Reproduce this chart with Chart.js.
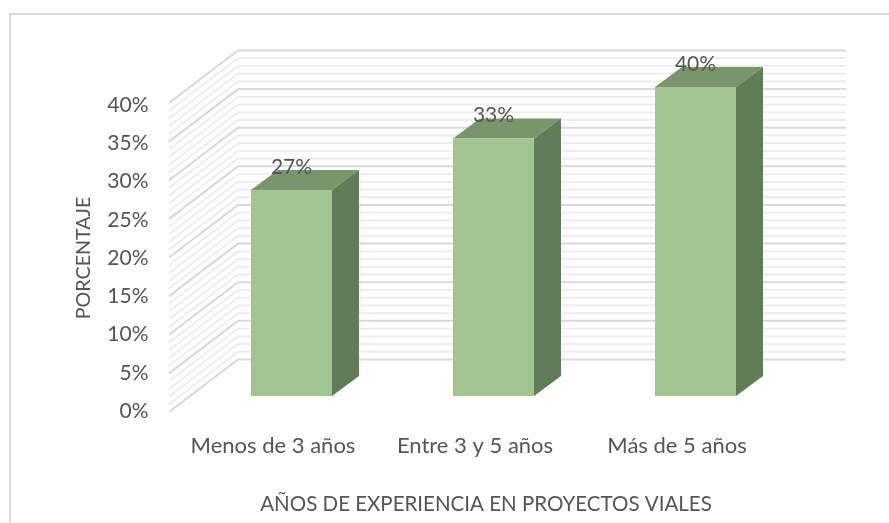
<!DOCTYPE html>
<html><head><meta charset="utf-8">
<style>html,body{margin:0;padding:0;background:#fff}canvas{display:block;filter:blur(0.6px)}</style>
<script src="https://cdn.jsdelivr.net/npm/chart.js@4"></script>
</head><body><canvas id="c" width="889" height="523"></canvas>
<script>
const categories = ["Menos de 3 años", "Entre 3 y 5 años", "Más de 5 años"];
const porcentaje = [26.67, 33.33, 40];
const tickValues = [0, 5, 10, 15, 20, 25, 30, 35, 40];
const xTitle = "AÑOS DE EXPERIENCIA EN PROYECTOS VIALES";
const yTitle = "PORCENTAJE";
const FONT = 'Lato';
const TEXT = "#555555";
const wall = {dx: 69, dy: 52.5, leftOfArea: 21.5, rightOfArea: 49.5};
const depth = {dx: 27, dy: 20};

const scene = {
  id: "scene",
  beforeDraw(chart) {
    const {ctx} = chart;
    ctx.save();
    ctx.strokeStyle = "#d9d9d9"; ctx.lineWidth = 2;
    ctx.beginPath(); ctx.moveTo(10, 523); ctx.lineTo(10, 14); ctx.lineTo(889, 14); ctx.stroke();
    ctx.restore();
  },
  beforeDatasetsDraw(chart) {
    const {ctx, chartArea: a, scales} = chart;
    const g = scales.yGrid;
    ctx.save();
    const x0 = a.left - wall.leftOfArea, x1 = x0 + wall.dx, x2 = a.right + wall.rightOfArea;
    for (let v = 0; v <= 40; v++) {
      const major = v % 5 === 0;
      const y = g.getPixelForValue(v);
      ctx.strokeStyle = major ? "#d9d9d9" : "#ececec";
      ctx.lineWidth = major ? 2 : 1.8;
      ctx.beginPath(); ctx.moveTo(x0, y); ctx.lineTo(x1, y - wall.dy); ctx.lineTo(x2, y - wall.dy); ctx.stroke();
    }
    chart.getDatasetMeta(0).data.forEach(b => {
      const l = b.x - b.width / 2, r = b.x + b.width / 2, t = b.y, bt = b.base;
      ctx.fillStyle = "#78956c";
      ctx.beginPath(); ctx.moveTo(l, t); ctx.lineTo(l + depth.dx, t - depth.dy); ctx.lineTo(r + depth.dx, t - depth.dy); ctx.lineTo(r, t); ctx.closePath(); ctx.fill();
      ctx.fillStyle = "#627b59";
      ctx.beginPath(); ctx.moveTo(r, t); ctx.lineTo(r + depth.dx, t - depth.dy); ctx.lineTo(r + depth.dx, bt - depth.dy); ctx.lineTo(r, bt); ctx.closePath(); ctx.fill();
    });
    ctx.restore();
  },
  afterDatasetsDraw(chart) {
    const {ctx} = chart;
    ctx.save();
    ctx.fillStyle = TEXT; ctx.textAlign = "center"; ctx.textBaseline = "middle";
    ctx.font = "21px " + FONT;
    chart.getDatasetMeta(0).data.forEach((b, i) => ctx.fillText(Math.round(porcentaje[i]) + "%", b.x, b.y - 23));
    ctx.font = "20.5px " + FONT;
    ctx.fillText(xTitle, 486, 504);
    ctx.font = "19.7px " + FONT;
    ctx.translate(84, 258); ctx.rotate(-Math.PI / 2);
    ctx.fillText(yTitle, 0, 0);
    ctx.restore();
  }
};
const noPad = s => { s.paddingTop = s.paddingBottom = s.paddingLeft = s.paddingRight = 0; };

new Chart(document.getElementById("c"), {
  type: "bar",
  data: {labels: categories, datasets: [{
    data: porcentaje, yAxisID: "y", backgroundColor: "#a1c490", borderWidth: 0,
    barPercentage: 0.401, categoryPercentage: 1
  }]},
  plugins: [scene],
  options: {
    responsive: false, animation: false, events: [],
    layout: {padding: {top: 50, right: 92.5, left: 0, bottom: 0}},
    plugins: {legend: {display: false}, tooltip: {enabled: false}},
    scales: {
      x: {
        grid: {display: false}, border: {display: false},
        ticks: {color: TEXT, font: {family: FONT, size: 22}, padding: 13, labelOffset: -18.5, maxRotation: 0, autoSkip: false},
        afterFit(s) { s.height = 111; noPad(s); }
      },
      y: {display: false, min: -2.07, max: 44.79},
      yGrid: {display: false, min: 0, max: 46.86},
      yTicks: {
        position: "left", min: -0.13, max: 47.19,
        grid: {display: false, drawTicks: false}, border: {display: false},
        afterBuildTicks(s) { s.ticks = tickValues.map(v => ({value: v})); },
        ticks: {color: TEXT, font: {family: FONT, size: 21}, padding: 42, autoSkip: false, callback: v => v + "%"},
        afterFit(s) { s.width = 190.5; noPad(s); }
      }
    }
  }
});
</script></body></html>
